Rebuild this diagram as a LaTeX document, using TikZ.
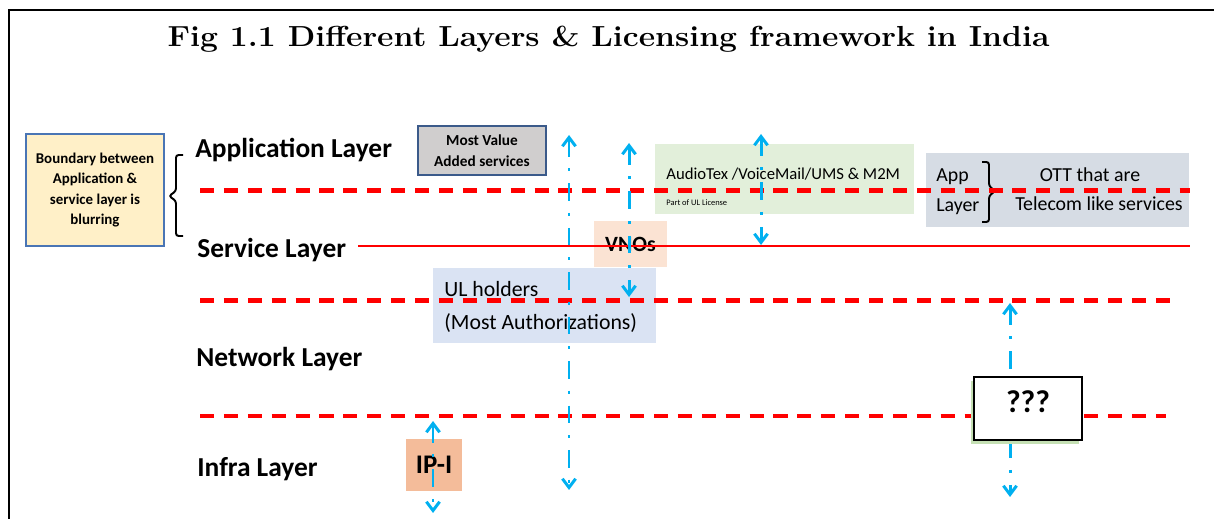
\documentclass[tikz,border=0pt]{standalone}
\usepackage{fontspec}
\setsansfont{Carlito}
\usetikzlibrary{arrows.meta,shadows}

\definecolor{boundfill}{HTML}{FFF0C8}
\definecolor{boundline}{HTML}{4A75B5}
\definecolor{valuefill}{HTML}{D0CECE}
\definecolor{valueline}{HTML}{3B5A8A}
\definecolor{vnofill}{HTML}{FBE3D3}
\definecolor{ulfill}{HTML}{DAE3F3}
\definecolor{audiofill}{HTML}{E2EFDA}
\definecolor{ottfill}{HTML}{D6DCE4}
\definecolor{ipfill}{HTML}{F4BC9A}
\definecolor{qshadow}{HTML}{C5E0B4}
\definecolor{layerline}{HTML}{FF0000}
\definecolor{reach}{HTML}{00B0F0}

\begin{document}
\begin{tikzpicture}[x=0.02cm, y=-0.02cm,
  layer/.style={anchor=base west, inner sep=0pt, font=\sffamily\bfseries\fontsize{15.6}{18}\selectfont},
  plainbox/.style={fill=#1, inner sep=0pt},
  label/.style={inner sep=0pt, font=\sffamily\fontsize{#1}{#1}\selectfont},
  boundary/.style={layerline, line width=2.3pt, dash pattern=on 8pt off 5.6pt},
  reacharrow/.style={reach, line width=1.7pt, dash pattern=on 10pt off 6.8pt on 1.7pt off 6.8pt,
    {Straight Barb[length=5pt,width=7.5pt]}-{Straight Barb[length=5pt,width=7.5pt]}}]
\useasboundingbox (0,0) rectangle (1214,519);
\draw[line width=1.2pt] (9,519) -- (9,10) -- (1214,10);

\node[anchor=base, inner sep=0pt, font=\bfseries\fontsize{16.5}{18}\selectfont] (title) at (608.5,47)
  {\scalebox{1.1}[1]{Fig 1.1 Different Layers \& Licensing framework in India}};

% left note and its brace
\node[draw=boundline, line width=1.2pt, fill=boundfill, minimum width=2.76cm, minimum height=2.24cm,
  inner sep=0pt, align=center, font=\sffamily\bfseries\fontsize{8.5}{11.7}\selectfont] (boundnote) at (95,190)
  {Boundary between\\ Application \&\\ service layer is\\ blurring};
\draw[line width=1.1pt, rounded corners=1.5pt] (183,155) -- (176,155) -- (176,191) -- (169,196)
  -- (176,201) -- (176,236) -- (183,236);

\node[layer] (applayer) at (195,158) {Application Layer};
\node[layer] (servlayer) at (197,258) {Service Layer};
\node[layer] (netlayer) at (196,367) {Network Layer};
\node[layer] (infralayer) at (197,477) {Infra Layer};

% licence boxes
\node[draw=valueline, line width=1.2pt, fill=valuefill, minimum width=2.56cm, minimum height=0.98cm,
  inner sep=0pt, align=center, font=\sffamily\bfseries\fontsize{8.7}{11.7}\selectfont] (mostvalue) at (482,150.5)
  {Most Value\\ Added services};
\node[plainbox=audiofill, minimum width=5.18cm, minimum height=1.4cm] (audiotex) at (784.5,179) {};
\node[label=9.5, anchor=base west] (audiotext) at (666,180) {AudioTex /VoiceMail/UMS \& M2M};
\node[label=4.8, anchor=base west] (ulpart) at (666,206) {Part of UL License};
\node[plainbox=ottfill, minimum width=5.26cm, minimum height=1.48cm] (ott) at (1057.5,190) {};
\node[label=11.3, anchor=base west] (ottapp) at (936,182) {App};
\node[label=11.3, anchor=base west] (ottlayer) at (936,212) {Layer};
\draw[line width=1.1pt, rounded corners=1.5pt] (982,162) -- (989,162) -- (989,186) -- (995,191)
  -- (989,196) -- (989,222) -- (982,222);
\node[label=11.3, anchor=base] (ottone) at (1090,182) {OTT that are};
\node[label=11.3, anchor=base] (otttwo) at (1099,211) {Telecom like services};
\node[plainbox=vnofill, minimum width=1.46cm, minimum height=0.92cm,
  font=\sffamily\bfseries\fontsize{12.4}{14}\selectfont] (vnos) at (630.5,244) {VNOs};
\node[plainbox=ulfill, minimum width=4.46cm, minimum height=1.5cm] (ulbox) at (544.5,305.5) {};
\node[label=12.4, anchor=base west] (ulone) at (444,297) {UL holders};
\node[label=12.4, anchor=base west] (ultwo) at (444,330) {(Most Authorizations)};
\node[plainbox=ipfill, minimum width=1.12cm, minimum height=1.04cm,
  font=\sffamily\bfseries\fontsize{15.3}{17}\selectfont] (ipi) at (434,465) {IP-I};

% layer boundaries
\draw[boundary] (200,190.5) -- (1190,190.5);
\draw[layerline, line width=1.1pt] (358,246) -- (1190,246);
\draw[boundary] (200,300.5) -- (1178,300.5);
\draw[boundary] (200,416) -- (1166,416);

% reach of each licence
\coordinate (ulup) at (569,135);
\coordinate (uldown) at (569,490);
\coordinate (vnoup) at (629,143);
\coordinate (vnodown) at (629,297);
\coordinate (audioup) at (761,134);
\coordinate (audiodown) at (761,245);
\coordinate (qup) at (1010,303);
\coordinate (qdown) at (1010,497);
\coordinate (ipup) at (433,421);
\coordinate (ipdown) at (433,513);
\draw[reacharrow] (ulup) -- (uldown);
\draw[reacharrow] (vnoup) -- (vnodown);
\draw[reacharrow] (audioup) -- (audiodown);
\draw[reacharrow] (qup) -- (qdown);
\draw[reacharrow] (ipup) -- (ipdown);

\node[draw, line width=1.1pt, fill=white, minimum width=2.16cm, minimum height=1.26cm,
  general shadow={fill=qshadow, shadow xshift=-1.7pt, shadow yshift=-2.3pt}] (unknown) at (1028,408.5) {};
\node[anchor=base, font=\sffamily\bfseries\fontsize{18}{20}\selectfont] (qmarks) at (1028,413) {???};
\end{tikzpicture}
\end{document}
